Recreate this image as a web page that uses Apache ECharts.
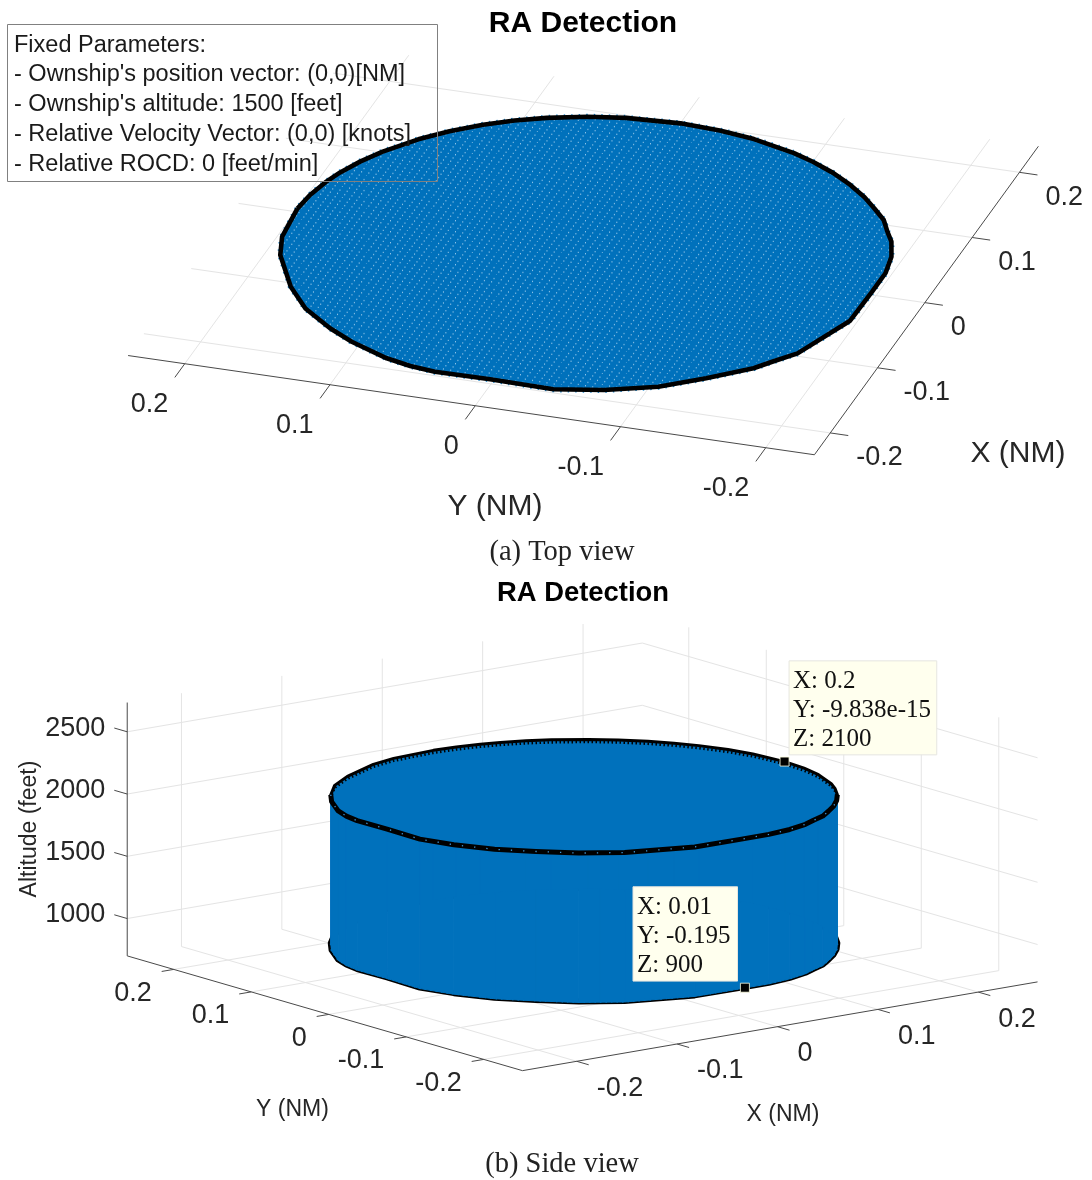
<!DOCTYPE html>
<html><head><meta charset="utf-8">
<style>html,body{margin:0;padding:0;background:#fff}#c{width:1092px;height:1180px}</style>
<script src="https://cdn.jsdelivr.net/npm/echarts@6/dist/echarts.min.js"></script>
</head><body><div id="c"></div>
<script>
// ---------- data ----------
const outlineX = [.0046,-.0375,-.0632,-.1052,-.1325,-.1551,-.1694,-.1854,-.1913,-.1944,-.1938,-.1950,-.1858,-.1703,-.1490,-.1256,-.1118,-.0960,-.0401,.0046,.0333,.0571,.0779,.0908,.1065,.1204,.1344,.1486,.1618,.1732,.1815,.1929,.1980,.2000,.1966,.1906,.1807,.1705,.1583,.1426,.1251,.1009,.0829,.0634,.0470,.0261];
const outlineY = [.2000,.1968,.1897,.1688,.1498,.1255,.1059,.0766,.0585,.0405,.0027,-.0412,-.0731,-.1055,-.1314,-.1564,-.1658,-.1771,-.1951,-.1957,-.1956,-.1919,-.1851,-.1782,-.1705,-.1597,-.1482,-.1338,-.1176,-.1000,-.0843,-.0530,-.0278,-.0002,.0364,.0607,.0856,.1045,.1222,.1402,.1560,.1726,.1820,.1897,.1944,.1983];
const cylinderBottom = 900;
const cylinderTop = 2100;
const xTicks = [-0.2,-0.1,0,0.1,0.2];
const yTicks = [-0.2,-0.1,0,0.1,0.2];
const zTicks = [1000,1500,2000,2500];
const tipX = [0.2,0.01];
const tipY = [-9.838e-15,-0.195];
const tipZ = [2100,900];
const tipLines = [["X: 0.2","Y: -9.838e-15","Z: 2100"],["X: 0.01","Y: -0.195","Z: 900"]];
const annotationLines = ["Fixed Parameters:","- Ownship's position vector: (0,0)[NM]","- Ownship's altitude: 1500 [feet]","- Relative Velocity Vector: (0,0) [knots]","- Relative ROCD: 0 [feet/min]"];

// ---------- the two views ----------
const topLim = {xmin:-.2335,xmax:.24,ymin:-.2335,ymax:.239};
const sideLim = {xmin:-.254,xmax:.259,ymin:-.25,ymax:.26,zmin:700,zmax:2735};
const views = {
  top:{u0:585.7,ux:473,uy:-1452.5,v0:253.6,vx:-651.5,vy:-210,vz:0,z0:0,ax:0},
  side:{u0:583.75,ux:1004,uy:-775,v0:970.45,vx:-173,vy:-225,vz:-.1245,z0:700,ax:1}
};
const proj = (view,x,y,z)=>[view.u0+view.ux*x+view.uy*y, view.v0+view.vx*x+view.vy*y+view.vz*(z-view.z0)];

const SANS='"Liberation Sans"', SERIF='"Liberation Serif"';
const BLUE='#0071BC', AXIS='#4a4a4a', GRID='#e4e4e4', INK='#262626';

// dotted surface fill of the top view
function dotTile(){
  const W=65,H=11,c=document.createElement('canvas');c.width=W;c.height=H;
  const g=c.getContext('2d');g.fillStyle=BLUE;g.fillRect(0,0,W,H);
  g.fillStyle='rgba(200,228,248,.7)';
  for(let m=-40;m<40;m++)for(let n=-40;n<40;n++){
    const px=2.407*m+7.222*n,py=-3.259*m+1.222*n;
    if(px>=0&&px<W&&py>=0&&py<H)g.fillRect(px,py,1,1.4);
  }
  return c;
}
const tile=dotTile();

function segSeries(view,segs,color,width,z){
  return {type:'custom',coordinateSystem:'cartesian2d',xAxisIndex:view.ax,yAxisIndex:view.ax,z,silent:true,data:segs,
    renderItem:(p,api)=>{
      const a=api.coord(proj(view,api.value(0),api.value(1),api.value(2)));
      const b=api.coord(proj(view,api.value(3),api.value(4),api.value(5)));
      return {type:'line',shape:{x1:a[0],y1:a[1],x2:b[0],y2:b[1]},style:{stroke:color,lineWidth:width}};
    }};
}
function labelSeries(view,pts,texts,align,dx,dy,z){
  return {type:'custom',coordinateSystem:'cartesian2d',xAxisIndex:view.ax,yAxisIndex:view.ax,z:z||9,silent:true,data:pts,
    renderItem:(p,api)=>{
      const a=api.coord(proj(view,api.value(0),api.value(1),api.value(2)));
      return {type:'text',style:{text:texts[p.dataIndex],x:a[0]+dx,y:a[1]+dy,align,verticalAlign:'middle',fontFamily:SANS,fontSize:27,fill:INK}};
    }};
}
function outlineLine(view,z,color,width,dash,order){
  const pts=outlineX.map((x,i)=>proj(view,x,outlineY[i],z));pts.push(pts[0]);
  return lineOf(view,pts,color,width,dash,order);
}
function lineOf(view,pts,color,width,dash,order){
  return {type:'line',xAxisIndex:view.ax,yAxisIndex:view.ax,data:pts,symbol:'none',clip:false,silent:true,z:order,
    lineStyle:{color,width,type:dash||'solid',join:'round',cap:'butt'}};
}
// the part of the outline on the near (front) or far (back) side of the side view
function arcLine(view,z,front,color,width,dash,order){
  const n=outlineX.length,isBack=i=>(-view.vx*outlineX[i%n]-view.vy*outlineY[i%n])>0;
  const want=i=>front?!isBack(i):isBack(i);
  let s=0;for(let i=0;i<n;i++){if(want(i)&&!want((i+n-1)%n)){s=i;break;}}
  const pts=[proj(view,outlineX[(s+n-1)%n],outlineY[(s+n-1)%n],z)];
  for(let k=0;k<n&&want(s+k);k++)pts.push(proj(view,outlineX[(s+k)%n],outlineY[(s+k)%n],z));
  const e=pts.length-1;pts.push(proj(view,outlineX[(s+e)%n],outlineY[(s+e)%n],z));
  return lineOf(view,pts,color,width,dash,order);
}
function polygonSeries(view,z,fill,order){
  return {type:'custom',coordinateSystem:'cartesian2d',xAxisIndex:view.ax,yAxisIndex:view.ax,z:order,silent:true,data:[[0,0]],
    renderItem:(p,api)=>({type:'polygon',shape:{points:outlineX.map((x,i)=>api.coord(proj(view,x,outlineY[i],z)))},style:{fill,stroke:null}})};
}
function wallSeries(view,order){
  const segs=outlineX.map((x,i)=>{const j=(i+1)%outlineX.length;return [x,outlineY[i],outlineX[j],outlineY[j]];});
  return {type:'custom',coordinateSystem:'cartesian2d',xAxisIndex:view.ax,yAxisIndex:view.ax,z:order,silent:true,data:segs,
    renderItem:(p,api)=>{
      const x0=api.value(0),y0=api.value(1),x1=api.value(2),y1=api.value(3);
      return {type:'polygon',shape:{points:[
        api.coord(proj(view,x0,y0,cylinderBottom)),api.coord(proj(view,x1,y1,cylinderBottom)),
        api.coord(proj(view,x1,y1,cylinderTop)),api.coord(proj(view,x0,y0,cylinderTop))]},
        style:{fill:BLUE,stroke:BLUE,lineWidth:1}};
    }};
}
// data tips: box offsets from the anchor point are layout only
const tipBox=[{l:4.5,t:-100.7,w:147.7,h:94},{l:-111.9,t:-100.9,w:104.5,h:94.3}];
function tipSeries(view){
  return {type:'custom',coordinateSystem:'cartesian2d',xAxisIndex:view.ax,yAxisIndex:view.ax,z:20,silent:true,
    data:tipX.map((x,i)=>[x,tipY[i],tipZ[i]]),
    renderItem:(p,api)=>{
      const a=api.coord(proj(view,api.value(0),api.value(1),api.value(2)));
      const b=tipBox[p.dataIndex],lines=tipLines[p.dataIndex];
      const children=[
        {type:'rect',shape:{x:a[0]+b.l,y:a[1]+b.t,width:b.w,height:b.h},style:{fill:'#FFFFEE',stroke:'#e6e6e0',lineWidth:1}},
        {type:'rect',shape:{x:a[0]-4.5,y:a[1]-4.5,width:9,height:9},style:{fill:'#000',stroke:'#FFFFE0',lineWidth:.8}}
      ];
      lines.forEach((t,k)=>children.push({type:'text',style:{text:t,x:a[0]+b.l+4,y:a[1]+b.t+21+29*k,align:'left',verticalAlign:'middle',fontFamily:SERIF,fontSize:25,fill:'#111'}}));
      return {type:'group',children};
    }};
}

// ---------- segments for floors, walls, axes ----------
const T=views.top,S=views.side,tl=topLim,sl=sideLim;
const topGrid=[...xTicks.map(x=>[x,tl.ymin,0,x,tl.ymax,0]),...yTicks.map(y=>[tl.xmin,y,0,tl.xmax,y,0])];
const topAxes=[[tl.xmin,tl.ymin,0,tl.xmax,tl.ymin,0],[tl.xmin,tl.ymin,0,tl.xmin,tl.ymax,0],
  ...xTicks.map(x=>[x,tl.ymin,0,x,tl.ymin-.0124,0]),...yTicks.map(y=>[tl.xmin,y,0,tl.xmin-.021,y,0])];
const sideGrid=[
  ...xTicks.map(x=>[x,sl.ymin,sl.zmin,x,sl.ymax,sl.zmin]),...yTicks.map(y=>[sl.xmin,y,sl.zmin,sl.xmax,y,sl.zmin]),
  ...xTicks.map(x=>[x,sl.ymax,sl.zmin,x,sl.ymax,sl.zmax]),...yTicks.map(y=>[sl.xmax,y,sl.zmin,sl.xmax,y,sl.zmax]),
  ...zTicks.map(z=>[sl.xmin,sl.ymax,z,sl.xmax,sl.ymax,z]),...zTicks.map(z=>[sl.xmax,sl.ymin,z,sl.xmax,sl.ymax,z])];
const sideAxes=[[sl.xmin,sl.ymin,sl.zmin,sl.xmax,sl.ymin,sl.zmin],[sl.xmin,sl.ymin,sl.zmin,sl.xmin,sl.ymax,sl.zmin],[sl.xmin,sl.ymax,sl.zmin,sl.xmin,sl.ymax,sl.zmax],
  ...xTicks.map(x=>[x,sl.ymin,sl.zmin,x,sl.ymin-.0155,sl.zmin]),...yTicks.map(y=>[sl.xmin,y,sl.zmin,sl.xmin-.012,y,sl.zmin]),
  ...zTicks.map(z=>[sl.xmin,sl.ymax,z,sl.xmin,sl.ymax+.0167,z])];
const fmt=v=>String(v);

const series=[
  segSeries(T,topGrid,GRID,1,1),
  segSeries(T,topAxes,AXIS,1,2),
  polygonSeries(T,0,{image:tile,repeat:'repeat'},3),
  outlineLine(T,0,'#1c86cc',6,[1.5,6],4),
  outlineLine(T,0,'#000',4.6,null,5),
  labelSeries(T,xTicks.map(x=>[x,tl.ymin,0]),xTicks.map(fmt),'left',26,25),
  labelSeries(T,yTicks.map(y=>[tl.xmin,y,0]),yTicks.map(fmt),'right',-16.5,41),

  segSeries(S,sideGrid,GRID,1,1),
  segSeries(S,sideAxes,AXIS,1,2),
  outlineLine(S,cylinderBottom+8,'#000',6,null,3),
  wallSeries(S,4),
  polygonSeries(S,cylinderTop,BLUE,5),
  arcLine(S,cylinderBottom+4,true,BLUE,2,[1.5,4],6),
  arcLine(S,cylinderTop,false,'#000',3,null,6),
  arcLine(S,cylinderTop-20,false,'#000',2.6,[1.5,2.5],6),
  arcLine(S,cylinderTop,true,'#000',5,null,7),
  arcLine(S,cylinderTop,true,'#3f97d6',1.3,[1.3,11],8),
  labelSeries(S,xTicks.map(x=>[x,sl.ymin,sl.zmin]),xTicks.map(fmt),'left',20,27),
  labelSeries(S,yTicks.map(y=>[sl.xmin,y,sl.zmin]),yTicks.map(fmt),'right',-22,23.7),
  labelSeries(S,zTicks.map(z=>[sl.xmin,sl.ymax,z]),zTicks.map(fmt),'right',-22,-3.6),
  tipSeries(S)
];

const hidden=(gridIndex,min,max,inverse)=>({type:'value',gridIndex,min,max,inverse,show:false});
const axisText=(text,x,y,size,rotation)=>({type:'text',x,y,rotation:rotation||0,z:30,silent:true,
  style:{text,align:'center',verticalAlign:'middle',fontFamily:SANS,fontSize:size,fill:INK}});
const caption=(text,x,y)=>({type:'text',x,y,z:30,silent:true,style:{text,align:'center',verticalAlign:'middle',fontFamily:SERIF,fontSize:28.5,fill:'#222'}});

const option={
  animation:false,backgroundColor:'#fff',
  title:[
    {text:'RA Detection',left:583,top:9,textAlign:'center',textStyle:{fontFamily:SANS,fontSize:30,fontWeight:'bold',color:'#000'},padding:0},
    {text:'RA Detection',left:583,top:580,textAlign:'center',textStyle:{fontFamily:SANS,fontSize:27.4,fontWeight:'bold',color:'#000'},padding:0}
  ],
  grid:[{left:0,top:0,width:1092,height:570,show:false},{left:0,top:570,width:1092,height:610,show:false}],
  xAxis:[hidden(0,0,1092,false),hidden(1,0,1092,false)],
  yAxis:[hidden(0,0,570,true),hidden(1,570,1180,true)],
  series,
  graphic:{elements:[
    {type:'rect',z:30,silent:true,shape:{x:7.5,y:24.5,width:430,height:157},style:{fill:'transparent',stroke:'#808080',lineWidth:1}},
    ...annotationLines.map((t,i)=>({type:'text',x:14,y:45.2+29.75*i,z:30,silent:true,style:{text:t,align:'left',verticalAlign:'middle',fontFamily:SANS,fontSize:23.5,fill:'#1a1a1a'}})),
    axisText('X (NM)',1018,454,30),
    axisText('Y (NM)',495,507,30),
    axisText('X (NM)',783,1115,23),
    axisText('Y (NM)',292.5,1109.5,23),
    axisText('Altitude (feet)',29.5,829,23,Math.PI/2),
    caption('(a) Top view',562,552.5),
    caption('(b) Side view',562,1164.5)
  ]}
};
echarts.init(document.getElementById('c'),null,{renderer:'canvas'}).setOption(option);
</script></body></html>
